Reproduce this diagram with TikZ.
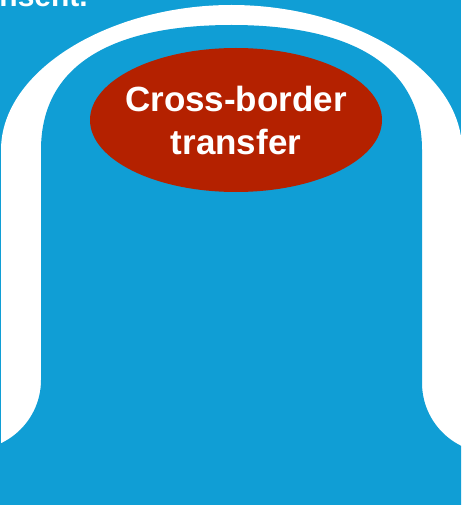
\documentclass[tikz,border=0pt]{standalone}
\usepackage{fontspec}
\setmainfont{Liberation Sans}
\usetikzlibrary{shapes.geometric}
\definecolor{skyblue}{HTML}{109ED5}
\definecolor{brickred}{HTML}{B42100}
\begin{document}
\begin{tikzpicture}[x=1pt,y=-1pt,
    blob/.style={ellipse, fill=brickred, text=white, align=center, inner xsep=-8pt, inner ysep=0pt,
      minimum width=292pt, minimum height=144pt, font=\fontsize{35}{43}\selectfont\bfseries},
    caption/.style={text=white, inner sep=0pt, font=\fontsize{30}{36}\selectfont\bfseries}]
    \useasboundingbox (0,0) rectangle (461,505);
    \clip (0,0) rectangle (461,505);
    \fill[skyblue] (0,0) rectangle (461,505);

    % white arch
    \fill[white] (1,520) -- (1,150) .. controls (1,70) and (110,5) .. (231.5,5)
        .. controls (353,5) and (462,70) .. (462,150) -- (462,520) -- cycle;
    % inside of the arch, flaring out at the bottom
    \fill[skyblue] (-60,600) -- (-60,450) -- (-29,450) arc[start angle=90, end angle=0, radius=70]
        -- (41,150) .. controls (41,60) and (120,25) .. (231.5,25)
        .. controls (343,25) and (422,60) .. (422,150)
        -- (422,383) arc[start angle=180, end angle=90, radius=70]
        -- (530,453) -- (530,600) -- cycle;

    \node (consent) [caption, anchor=base east] at (88,7) {consent.};
    \node (transfer) [blob] at (236,120) {Cross-border\\transfer};
\end{tikzpicture}
\end{document}
